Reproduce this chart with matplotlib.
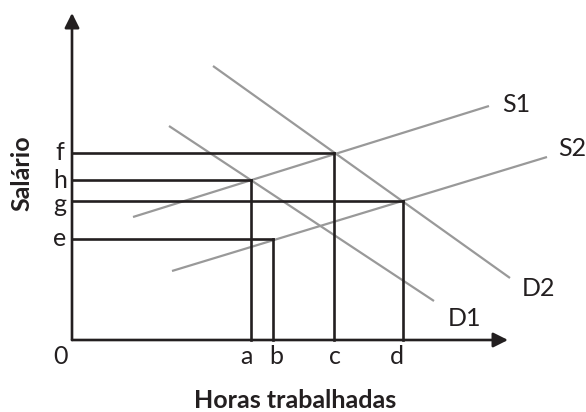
import matplotlib.pyplot as plt

# Points on the axes (hours, wage)
hour_names = ["a", "b", "c", "d"]
hour_vals = [17.9, 20.1, 26.2, 33.1]
wage_names = ["f", "h", "g", "e"]
wage_vals = [18.7, 16.0, 13.9, 10.1]
# which wage each hour is paired with (drop lines)
pair_wage = [16.0, 10.1, 18.7, 13.9]

# supply / demand curves: (x0, y0), (x1, y1)
curve_names = ["S1", "S2", "D1", "D2"]
curve_x = [[6.1, 41.7], [10.0, 47.5], [9.7, 36.2], [14.1, 43.8]]
curve_y = [[12.3, 23.4], [6.9, 18.3], [21.4, 3.9], [27.4, 6.2]]
label_pos = [(44.4, 23.5), (50.0, 19.2), (39.2, 2.1), (46.6, 5.1)]

x_axis_end = 43.6
y_axis_end = 32.7

ink = "#231f20"
grey = "#999999"
font = ["Lato", "DejaVu Sans"]
fs = 18

fig = plt.figure(figsize=(5.86, 4.12), dpi=100)
ax = fig.add_axes([0, 0, 1, 1])
ax.set_xlim(-7.2, 51.4)
ax.set_ylim(-7.2, 34.0)
ax.axis("off")

# curves
for xs, ys, name, pos in zip(curve_x, curve_y, curve_names, label_pos):
    ax.plot(xs, ys, color=grey, lw=1.6, solid_capstyle="butt", zorder=2)
    ax.text(pos[0], pos[1], name, fontsize=fs, family=font, color=ink,
            ha="center", va="center")

# horizontal guides from y axis to their intersections
guide_end = {16.0: 17.9, 10.1: 20.1, 18.7: 26.2, 13.9: 33.1}
for w in wage_vals:
    ax.plot([0, guide_end[w]], [w, w], color=ink, lw=1.9, zorder=3)

# vertical drop lines
for h, w in zip(hour_vals, pair_wage):
    ax.plot([h, h], [0, w], color=ink, lw=1.9, zorder=3)

# axes with arrows
ax.annotate("", xy=(x_axis_end, 0), xytext=(0, 0),
            arrowprops=dict(arrowstyle="-|>", lw=1.9, color=ink,
                            mutation_scale=22, shrinkA=0, shrinkB=0))
ax.annotate("", xy=(0, y_axis_end), xytext=(0, 0),
            arrowprops=dict(arrowstyle="-|>", lw=1.9, color=ink,
                            mutation_scale=22, shrinkA=0, shrinkB=0))

# tick letters
ax.text(-1.2, -1.6, "0", fontsize=fs, family=font, color=ink,
        ha="center", va="center")
hour_text_x = [17.4, 20.4, 26.3, 32.5]
for name, hx in zip(hour_names, hour_text_x):
    ax.text(hx, -1.6, name, fontsize=fs, family=font, color=ink,
            ha="center", va="center")
wage_text_y = [18.7, 16.0, 13.5, 10.1]
for name, wy in zip(wage_names, wage_text_y):
    ax.text(-1.2, wy, name, fontsize=fs, family=font, color=ink,
            ha="center", va="center")

ax.text(22.3, -6.0, "Horas trabalhadas", fontsize=fs, family=font,
        fontweight="bold", color=ink, ha="center", va="center")
ax.text(-5.0, 16.7, "Salário", fontsize=fs, family=font, fontweight="bold",
        color=ink, ha="center", va="center", rotation=90)

fig.savefig("out.png", dpi=100)
